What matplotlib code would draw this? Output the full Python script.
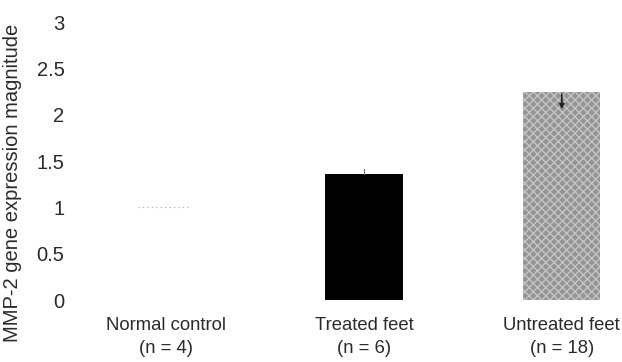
import matplotlib.pyplot as plt
import numpy as np

plt.rcParams['font.family'] = ['Liberation Sans', 'DejaVu Sans']

# Data
groups = ["Normal control\n(n = 4)", "Treated feet\n(n = 6)", "Untreated feet\n(n = 18)"]
values = [1.0, 1.36, 2.25]
err_up = [0.0, 0.06, 0.0]
err_down = [0.0, 0.0, 0.22]
y_ticks = [0, 0.5, 1, 1.5, 2, 2.5, 3]
y_tick_labels = ["0", "0.5", "1", "1.5", "2", "2.5", "3"]

fig = plt.figure(figsize=(6.22, 3.62), dpi=100)
ax = fig.add_axes([0.137, 0.171, 0.852, 0.768])

x = np.arange(len(groups))
width = 0.39

# white control bar, black treated bar, grey textured untreated bar
ax.bar(x[0], values[0], width, color="white", linewidth=0)
ax.plot([x[0] - width / 2 + 0.05, x[0] + 0.12], [values[0], values[0]],
        color="#aaaaaa", lw=0.8, ls=(0, (1, 3)))
ax.bar(x[1], values[1], width, color="black", linewidth=0)
ax.bar(x[2], values[2], width, color="#949494", edgecolor="#c4c4c4",
       hatch="xxxx", linewidth=0)

# error marks
ax.plot([x[1], x[1]], [values[1], values[1] + err_up[1]], color="#777777", lw=0.8)
ax.annotate("", xy=(x[2], values[2] - err_down[2]), xytext=(x[2], values[2]),
            arrowprops=dict(arrowstyle="-|>", color="#222222", lw=1.2,
                            mutation_scale=7))

ax.set_xlim(-0.41, 2.27)
ax.set_ylim(0, 3)
ax.set_yticks(y_ticks)
ax.set_yticklabels(y_tick_labels)
ax.set_xticks(x)
ax.set_xticklabels(groups, linespacing=1.5)
ax.tick_params(axis="y", length=0, pad=15, labelsize=14.5, labelcolor="#2a2a2a")
ax.tick_params(axis="x", length=0, pad=12, labelsize=13.3, labelcolor="#2a2a2a")
for s in ax.spines.values():
    s.set_visible(False)

ax.set_ylabel("MMP-2 gene expression magnitude", fontsize=14.5, color="#2a2a2a")
ax.yaxis.set_label_coords(-0.12, 0.42)

fig.savefig("out.png", dpi=100)
